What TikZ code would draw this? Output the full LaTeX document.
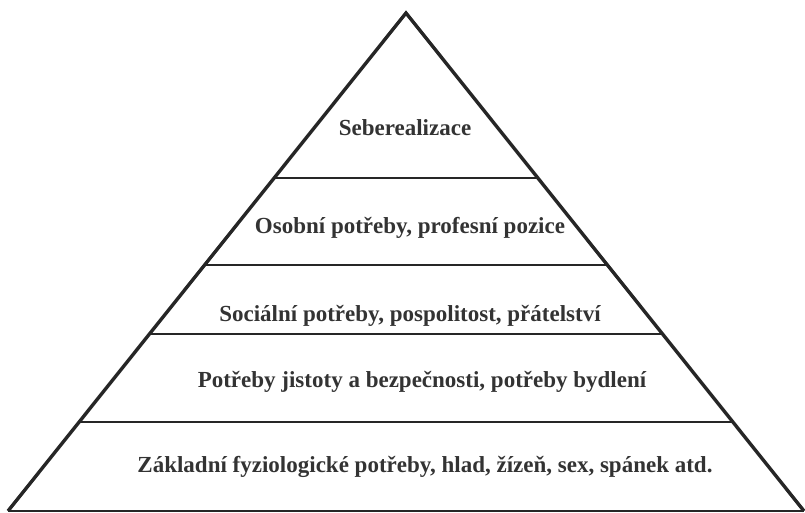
\documentclass[tikz,border=0pt]{standalone}
\usepackage{fontspec}
\setmainfont{Liberation Serif}
\usetikzlibrary{calc}
\begin{document}
\begin{tikzpicture}[x=1pt,y=-1pt,
  side/.style={line width=3.4pt,color=black!85},
  level/.style={line width=1.6pt,color=black!85},
  lbl/.style={font=\fontsize{23}{27}\selectfont\bfseries,text=black!80,inner sep=0pt}]
\useasboundingbox (0,0) rectangle (805,513);
\coordinate (apex) at (406,13);
\coordinate (baseL) at (8,511);
\coordinate (baseR) at (804,511);
\foreach \n/\y in {A/178,B/265,C/334,D/422}{
  \coordinate (lev\n L) at ($(apex)!{(\y-13)/498}!(baseL)$);
  \coordinate (lev\n R) at ($(apex)!{(\y-13)/498}!(baseR)$);
  \draw[level] (lev\n L) -- (lev\n R);
}
\draw[level,line width=2.2pt] (baseL) -- (baseR);
\draw[side,line join=miter] (baseL) -- (apex) -- (baseR);
\node[lbl] (t1) at (405,128) {Seberealizace};
\node[lbl] (t2) at (410,228) {Osobní potřeby, profesní pozice};
\node[lbl] (t3) at (410,316) {Sociální potřeby, pospolitost, přátelství};
\node[lbl] (t4) at (422,382) {Potřeby jistoty a bezpečnosti, potřeby bydlení};
\node[lbl] (t5) at (425,467) {Základní fyziologické potřeby, hlad, žízeň, sex, spánek atd.};
\end{tikzpicture}
\end{document}
